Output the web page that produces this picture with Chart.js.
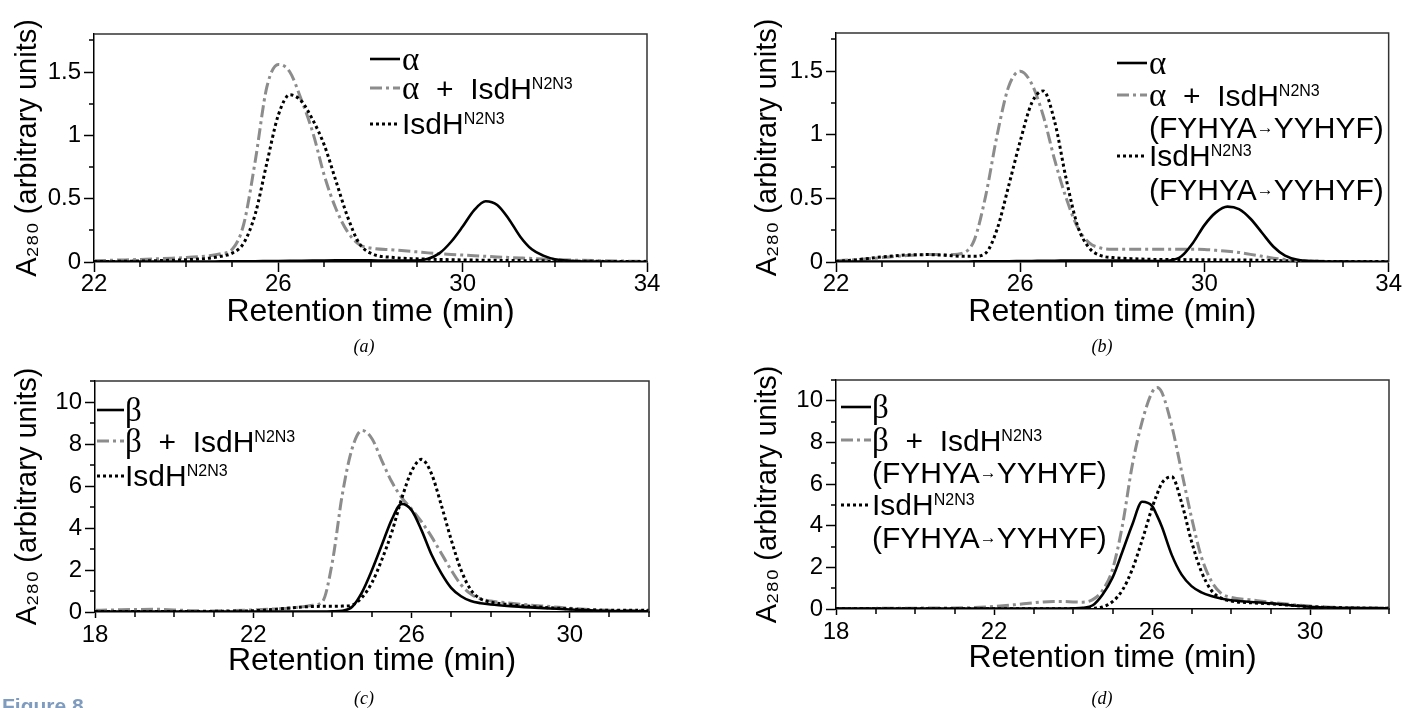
<!DOCTYPE html>
<html>
<head>
<meta charset="utf-8">
<script src="https://cdn.jsdelivr.net/npm/chart.js@4.4.1/dist/chart.umd.min.js"></script>
<style>
html,body{margin:0;padding:0;background:#fff;}
body{width:1402px;height:708px;overflow:hidden;position:relative;font-family:'Liberation Sans',Arial,'DejaVu Sans',sans-serif;color:#000;}
canvas{position:absolute;display:block;}
.lg{position:absolute;font-size:30px;line-height:30px;height:30px;white-space:pre;}
.lg sup{font-size:16px;line-height:0;vertical-align:10px;}
.lg .arr{font-size:17px;vertical-align:5px;}
.lg .gr{font-family:'Liberation Serif','Times New Roman',serif;font-size:33px;}
.sample{position:absolute;}
.cap{position:absolute;font-family:'Liberation Serif','Times New Roman',serif;font-style:italic;font-size:18px;transform:translate(-50%,-50%);}
.fig{position:absolute;left:2px;top:694px;font-size:21px;font-weight:bold;color:#7f9cbf;}
</style>
</head>
<body>
<canvas id="ca" width="700" height="340" style="left:0;top:0"></canvas>
<canvas id="cb" width="702" height="340" style="left:700px;top:0"></canvas>
<canvas id="cc" width="700" height="358" style="left:0;top:350px"></canvas>
<canvas id="cd" width="702" height="358" style="left:700px;top:350px"></canvas>
<div class="cap" style="left:364px;top:346px">(a)</div>
<div class="cap" style="left:1102px;top:346px">(b)</div>
<div class="cap" style="left:364px;top:698px">(c)</div>
<div class="cap" style="left:1102px;top:698px">(d)</div>
<div class="fig">Figure 8</div>
<script>
// ---------- data ----------
// retention time grids (min)
const timeA = [22,22.5,23,23.5,24,24.5,24.75,25,25.25,25.5,25.75,26,26.25,26.5,26.75,27,27.25,27.5,27.75,28,28.5,29,29.25,29.5,29.75,30,30.25,30.5,30.75,31,31.25,31.5,31.75,32,32.5,33,33.5,34];
const timeB = timeA;
const timeC = [18,18.5,19,19.5,20,20.5,21,21.5,22,22.5,23,23.25,23.5,23.75,24,24.25,24.5,24.75,25,25.25,25.5,25.75,26,26.25,26.5,26.75,27,27.25,27.5,27.75,28,28.5,29,29.5,30,30.5,31,31.5,32];
const timeD = [18,18.5,19,19.5,20,20.5,21,21.5,22,22.5,23,23.25,23.5,23.75,24,24.25,24.5,24.75,25,25.25,25.5,25.75,26,26.125,26.25,26.5,26.75,27,27.25,27.5,27.75,28,28.5,29,29.5,30,30.5,31,31.5,32];

// panel (a)
const alphaA = [0.003,0.003,0.003,0.003,0.004,0.004,0.005,0.005,0.006,0.006,0.007,0.008,0.009,0.01,0.011,0.012,0.013,0.014,0.014,0.013,0.011,0.012,0.025,0.07,0.16,0.28,0.41,0.48,0.45,0.34,0.2,0.1,0.05,0.022,0.006,0.003,0.002,0.002];
const alphaIsdhA = [0.01,0.015,0.02,0.028,0.035,0.05,0.065,0.1,0.3,0.8,1.38,1.56,1.5,1.28,1.02,0.68,0.42,0.24,0.14,0.11,0.095,0.08,0.072,0.065,0.06,0.055,0.05,0.045,0.04,0.036,0.032,0.028,0.024,0.02,0.014,0.01,0.007,0.005];
const isdhA = [0.003,0.005,0.008,0.012,0.018,0.03,0.045,0.07,0.15,0.38,0.78,1.16,1.32,1.27,1.12,0.92,0.64,0.36,0.15,0.07,0.035,0.025,0.022,0.02,0.018,0.016,0.015,0.014,0.013,0.012,0.011,0.01,0.009,0.008,0.006,0.005,0.004,0.004];

// panel (b)
const alphaB = [0.003,0.003,0.003,0.003,0.004,0.004,0.004,0.005,0.005,0.006,0.006,0.007,0.008,0.009,0.01,0.011,0.012,0.012,0.012,0.012,0.01,0.008,0.012,0.045,0.15,0.29,0.39,0.435,0.415,0.34,0.23,0.12,0.05,0.02,0.005,0.003,0.002,0.002];
const alphaMutB = [0.01,0.02,0.035,0.05,0.058,0.058,0.07,0.17,0.52,1.0,1.38,1.5,1.4,1.15,0.8,0.5,0.27,0.15,0.11,0.1,0.1,0.1,0.1,0.1,0.1,0.098,0.092,0.085,0.075,0.06,0.045,0.03,0.02,0.012,0.006,0.004,0.003,0.003];
const mutB = [0.005,0.02,0.04,0.055,0.058,0.05,0.045,0.045,0.07,0.26,0.6,0.95,1.25,1.345,1.1,0.65,0.28,0.11,0.05,0.035,0.025,0.02,0.02,0.019,0.018,0.018,0.017,0.016,0.015,0.015,0.013,0.012,0.01,0.008,0.005,0.004,0.003,0.003];

// panel (c)
const betaC = [0.02,0.02,0.02,0.02,0.02,0.02,0.02,0.02,0.02,0.02,0.02,0.02,0.02,0.02,0.03,0.06,0.25,0.95,2.0,3.2,4.4,5.15,4.85,3.9,2.75,1.85,1.15,0.75,0.52,0.42,0.36,0.28,0.22,0.17,0.12,0.08,0.05,0.04,0.03];
const betaIsdhC = [0.08,0.1,0.12,0.13,0.1,0.06,0.05,0.07,0.1,0.14,0.2,0.25,0.32,0.5,2.4,5.6,7.8,8.65,8.25,7.2,6.2,5.45,4.9,4.3,3.6,2.8,2.0,1.3,0.85,0.62,0.52,0.42,0.33,0.26,0.18,0.12,0.08,0.07,0.07];
const isdhC = [0.02,0.02,0.02,0.02,0.02,0.02,0.03,0.04,0.06,0.12,0.2,0.24,0.26,0.27,0.27,0.28,0.33,0.7,1.4,2.5,3.8,5.4,6.7,7.27,6.6,5.1,3.45,2.0,1.05,0.62,0.47,0.35,0.27,0.2,0.15,0.1,0.08,0.08,0.08];

// panel (d)
const betaD = [0.02,0.02,0.02,0.02,0.02,0.02,0.02,0.02,0.02,0.02,0.02,0.02,0.02,0.02,0.03,0.06,0.18,0.7,1.5,2.75,4.05,5.15,4.95,4.5,3.95,2.6,1.65,1.1,0.8,0.62,0.5,0.42,0.34,0.27,0.18,0.11,0.07,0.05,0.04,0.03];
const betaMutD = [0.03,0.03,0.03,0.04,0.04,0.05,0.05,0.07,0.12,0.2,0.3,0.34,0.36,0.36,0.34,0.33,0.45,0.9,1.9,4.0,6.9,9.0,10.4,10.64,10.4,8.8,6.6,4.4,2.5,1.35,0.75,0.56,0.44,0.32,0.22,0.14,0.09,0.06,0.05,0.05];
const mutD = [0.01,0.01,0.01,0.01,0.01,0.01,0.01,0.01,0.01,0.01,0.01,0.01,0.01,0.01,0.01,0.015,0.03,0.1,0.35,0.9,1.9,3.3,4.85,5.5,6.05,6.35,5.1,3.25,1.8,0.9,0.52,0.38,0.3,0.25,0.18,0.11,0.07,0.05,0.04,0.04];

// series names
const namesA = ['α', 'α  +  IsdH^{N2N3}', 'IsdH^{N2N3}'];
const namesB = ['α', 'α  +  IsdH^{N2N3}\n(FYHYA→YYHYF)', 'IsdH^{N2N3}\n(FYHYA→YYHYF)'];
const namesC = ['β', 'β  +  IsdH^{N2N3}', 'IsdH^{N2N3}'];
const namesD = ['β', 'β  +  IsdH^{N2N3}\n(FYHYA→YYHYF)', 'IsdH^{N2N3}\n(FYHYA→YYHYF)'];

// axis ticks
const xTicksTop = [22, 26, 30, 34];
const xMinorTop = [23, 24, 25, 27, 28, 29, 31, 32, 33];
const yTicksTop = [0, 0.5, 1, 1.5];
const yLabelsTop = ['0', '0.5', '1', '1.5'];
const yMinorTop = [0.25, 0.75, 1.25, 1.75];
const xTicksBot = [18, 22, 26, 30];
const xMinorBot = [19, 20, 21, 23, 24, 25, 27, 28, 29, 31, 32];
const yTicksBot = [0, 2, 4, 6, 8, 10];
const yLabelsBot = ['0', '2', '4', '6', '8', '10'];
const yMinorBot = [1, 3, 5, 7, 9, 11];

const xTitle = 'Retention time (min)';
const yTitle = 'A\u2082\u2088\u2080 (arbitrary units)';

// ---------- styles ----------
const FONT = "'Liberation Sans', Arial, 'DejaVu Sans', sans-serif";
const GRAY = '#8c8c8c';
const styleSolid  = {borderColor: '#000', borderWidth: 2.6, borderDash: [], order: 0};
const styleDashDot = {borderColor: GRAY, borderWidth: 3, borderDash: [12, 4, 3, 4], order: 2};
const styleDotted = {borderColor: '#000', borderWidth: 3, borderDash: [3, 3], order: 1};

function pts(xs, ys) { return xs.map((x, i) => ({x: x, y: ys[i]})); }

const framePlugin = {
  id: 'frameMinor',
  afterDraw(chart, args, o) {
    const {ctx, chartArea: a, scales} = chart;
    ctx.save();
    ctx.strokeStyle = '#333'; ctx.lineWidth = 1.5;
    ctx.beginPath();
    ctx.moveTo(a.left, a.top); ctx.lineTo(a.right, a.top); ctx.lineTo(a.right, a.bottom);
    ctx.stroke();
    ctx.strokeStyle = '#000'; ctx.lineWidth = 1.5;
    ctx.beginPath();
    for (const v of o.xMinor) { const px = Math.round(scales.x.getPixelForValue(v)); ctx.moveTo(px, a.bottom); ctx.lineTo(px, a.bottom + o.minorLen); }
    for (const v of o.yMinor) { const py = Math.round(scales.y.getPixelForValue(v)); ctx.moveTo(a.left, py); ctx.lineTo(a.left - o.minorLen, py); }
    ctx.stroke();
    ctx.restore();
  }
};

function makeChart(id, g, times, series, names, axes) {
  const datasets = series.map((s, i) => Object.assign({
    label: names[i], data: pts(times, s), pointRadius: 0, fill: false,
    cubicInterpolationMode: 'monotone', borderCapStyle: 'butt'
  }, [styleSolid, styleDashDot, styleDotted][i]));
  const chart = new Chart(document.getElementById(id), {
    type: 'line',
    data: {datasets},
    plugins: [framePlugin],
    options: {
      responsive: false, animation: false, devicePixelRatio: 1,
      layout: {autoPadding: false, padding: {left: 0, top: g.top, right: g.W - g.right, bottom: g.H - g.bottom - g.xH}},
      plugins: {legend: {display: false}, tooltip: {enabled: false},
        frameMinor: {xMinor: axes.xMinor, yMinor: axes.yMinor, minorLen: 5}},
      scales: {
        x: {type: 'linear', min: axes.xMin, max: axes.xMax,
          afterBuildTicks: s => { s.ticks = axes.xTicks.map(v => ({value: v})); },
          afterFit: s => { s.height = g.xH; },
          ticks: {color: '#000', font: {family: FONT, size: 24, lineHeight: 1}, padding: g.xPad, maxRotation: 0, autoSkip: false,
                  callback: v => String(v)},
          grid: {drawOnChartArea: false, drawTicks: true, tickLength: g.xTL, tickColor: '#000', tickWidth: 1.5},
          border: {display: true, color: '#000', width: 1.5},
          title: {display: true, text: xTitle, color: '#000', font: {family: FONT, size: 32, lineHeight: 1}, padding: 0}
        },
        y: {type: 'linear', min: 0, max: axes.yMax,
          afterBuildTicks: s => { s.ticks = axes.yTicks.map(v => ({value: v})); },
          afterFit: s => { s.width = g.left; },
          ticks: {color: '#000', font: {family: FONT, size: 24, lineHeight: 1}, padding: g.yPad,
                  callback: (v, i) => axes.yLabels[i]},
          grid: {drawOnChartArea: false, drawTicks: true, tickLength: 10, tickColor: '#000', tickWidth: 1.5},
          border: {display: true, color: '#000', width: 1.5},
          title: {display: true, text: yTitle, color: '#000', font: {family: FONT, size: 29, lineHeight: 1}, padding: {top: g.yTitleX - 14.5, bottom: 0}}
        }
      }
    }
  });
  return chart;
}

const topAxes = {xMin: 22, xMax: 34, yMax: 1.8, xTicks: xTicksTop, xMinor: xMinorTop, yTicks: yTicksTop, yLabels: yLabelsTop, yMinor: yMinorTop};
const botAxes = {xMin: 18, xMax: 32, yMax: 11, xTicks: xTicksBot, xMinor: xMinorBot, yTicks: yTicksBot, yLabels: yLabelsBot, yMinor: yMinorBot};

const chA = makeChart('ca', {W: 700, H: 340, left: 94, right: 647, top: 34, bottom: 262, xH: 66, xPad: 0, xTL: 10, yPad: 3, yTitleX: 28},
  timeA, [alphaA, alphaIsdhA, isdhA], namesA, topAxes);
const chB = makeChart('cb', {W: 702, H: 340, left: 136, right: 690, top: 33, bottom: 262, xH: 66, xPad: 0, xTL: 10, yPad: 3, yTitleX: 68},
  timeB, [alphaB, alphaMutB, mutB], namesB, topAxes);
const chC = makeChart('cc', {W: 700, H: 358, left: 95, right: 649, top: 31, bottom: 262, xH: 65, xPad: 5, xTL: 6, yPad: 3, yTitleX: 28},
  timeC, [betaC, betaIsdhC, isdhC], namesC, botAxes);
const chD = makeChart('cd', {W: 702, H: 358, left: 136, right: 689, top: 30, bottom: 259, xH: 65, xPad: 5, xTL: 6, yPad: 3, yTitleX: 68},
  timeD, [betaD, betaMutD, mutD], namesD, botAxes);

// ---------- HTML legends (built from the datasets) ----------
function fmt(t) {
  return t.replace(/\^\{(.*?)\}/g, '<sup>$1</sup>')
          .replace(/→/g, '<span class="arr">→</span>')
          .replace(/([αβ])/g, '<span class="gr">$1</span>');
}
function buildLegend(chart, L) {
  let row = 0;
  chart.data.datasets.forEach(ds => {
    const lines = ds.label.split('\n');
    lines.forEach((ln, k) => {
      const y = L.rows[row++];
      if (k === 0) {
        const w = L.sw;
        const svg = document.createElementNS('http://www.w3.org/2000/svg', 'svg');
        svg.setAttribute('width', w); svg.setAttribute('height', 8);
        svg.setAttribute('class', 'sample');
        svg.style.left = L.sx + 'px'; svg.style.top = (y - 4) + 'px';
        const line = document.createElementNS('http://www.w3.org/2000/svg', 'line');
        line.setAttribute('x1', 0); line.setAttribute('y1', 4); line.setAttribute('x2', w); line.setAttribute('y2', 4);
        line.setAttribute('stroke', ds.borderColor); line.setAttribute('stroke-width', ds.borderWidth);
        if (ds.borderDash.length) line.setAttribute('stroke-dasharray', ds.borderDash.join(' '));
        svg.appendChild(line);
        document.body.appendChild(svg);
      }
      const d = document.createElement('div');
      d.className = 'lg';
      d.style.left = L.tx + 'px'; d.style.top = (y - 15) + 'px';
      d.innerHTML = fmt(ln);
      document.body.appendChild(d);
    });
  });
}
buildLegend(chA, {sx: 370, sw: 30, tx: 402, rows: [59, 88, 124]});
buildLegend(chB, {sx: 1117, sw: 30, tx: 1149, rows: [63, 95, 128, 156, 190]});
buildLegend(chC, {sx: 97, sw: 27, tx: 125, rows: [410, 441, 476]});
buildLegend(chD, {sx: 841, sw: 30, tx: 872, rows: [407, 440, 473, 505, 538]});
</script>
</body>
</html>
